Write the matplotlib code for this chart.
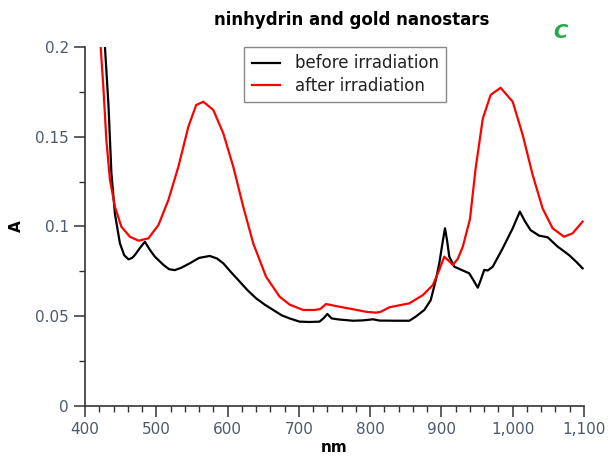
import matplotlib
matplotlib.use("Agg")
import matplotlib.pyplot as plt
from matplotlib.ticker import MultipleLocator, FuncFormatter

# spectra (wavelength nm, absorbance)
before_nm = [428, 433, 437, 442, 449, 455, 461, 466, 470, 477, 484, 491, 498, 510, 518,
             526, 535, 547, 560, 575, 585, 594, 605, 617, 628, 640, 652, 664, 676, 687,
             701, 715, 729, 735, 740, 746, 756, 776, 790, 804, 813, 835, 855, 864, 876,
             885, 892, 897, 902, 905, 908, 911, 918, 930, 939, 945, 951, 955, 960, 965,
             972, 986, 1000, 1010, 1017, 1025, 1037, 1049, 1063, 1079, 1090, 1098]
before_A = [0.200, 0.167, 0.130, 0.107, 0.0906, 0.084, 0.0817, 0.0825, 0.0841, 0.088,
            0.0915, 0.087, 0.0832, 0.0786, 0.0762, 0.0757, 0.077, 0.0795, 0.0825, 0.0836,
            0.0822, 0.0795, 0.0745, 0.0693, 0.0645, 0.060, 0.0565, 0.0535, 0.0505, 0.0488,
            0.047, 0.0468, 0.047, 0.049, 0.0513, 0.0488, 0.0482, 0.0475, 0.0477, 0.0483,
            0.0476, 0.0475, 0.0475, 0.0498, 0.0535, 0.059, 0.070, 0.0795, 0.092, 0.099,
            0.092, 0.0832, 0.0776, 0.0755, 0.0739, 0.070, 0.0659, 0.070, 0.0758, 0.0755,
            0.0776, 0.0879, 0.099, 0.1083, 0.103, 0.098, 0.0949, 0.094, 0.0888, 0.0841,
            0.080, 0.0767]

after_nm = [422, 426, 430, 435, 442, 451, 463, 475, 489, 503, 517, 531, 545, 556, 566,
            580, 594, 608, 622, 636, 654, 673, 687, 706, 722, 730, 738, 757, 776, 794,
            808, 815, 827, 855, 874, 888, 897, 904, 910, 916, 923, 930, 940, 948, 958,
            969, 983, 1000, 1014, 1028, 1042, 1056, 1072, 1084, 1098]
after_A = [0.200, 0.176, 0.148, 0.126, 0.111, 0.0999, 0.0943, 0.0921, 0.0934, 0.1008,
           0.1148, 0.1333, 0.1556, 0.1677, 0.1695, 0.1649, 0.1519, 0.1333, 0.111, 0.0906,
           0.072, 0.0609, 0.0565, 0.0535, 0.0535, 0.054, 0.0568, 0.0553, 0.0539, 0.0525,
           0.052, 0.0525, 0.055, 0.0572, 0.0618, 0.0674, 0.0758, 0.0832, 0.081, 0.0786,
           0.082, 0.0888, 0.104, 0.1324, 0.160, 0.1733, 0.1773, 0.1695, 0.151, 0.1287,
           0.110, 0.099, 0.0943, 0.0962, 0.1027]

tick_color = "#4d5a6b"

fig = plt.figure(figsize=(6.09, 4.66), dpi=100)
ax = fig.add_axes([85 / 609, 1 - 406 / 466, 499 / 609, 359 / 466])

ax.plot(before_nm, before_A, color="black", lw=1.6, label="before irradiation",
        solid_joinstyle="round")
ax.plot(after_nm, after_A, color="#ff0000", lw=1.6, label="after irradiation",
        solid_joinstyle="round")

ax.set_xlim(400, 1100)
ax.set_ylim(0, 0.2)
ax.xaxis.set_major_locator(MultipleLocator(100))
ax.xaxis.set_minor_locator(MultipleLocator(20))
ax.yaxis.set_major_locator(MultipleLocator(0.05))
ax.yaxis.set_minor_locator(MultipleLocator(0.025))
ax.xaxis.set_major_formatter(FuncFormatter(lambda v, p: f"{int(v):,}"))
ax.yaxis.set_major_formatter(FuncFormatter(lambda v, p: f"{v:g}"))

for s in ["top", "right"]:
    ax.spines[s].set_visible(False)
for s in ["left", "bottom"]:
    ax.spines[s].set_color("#333333")
    ax.spines[s].set_linewidth(1.2)

ax.tick_params(which="major", length=8, width=1.1, color="#333333",
               labelcolor=tick_color, labelsize=11)
ax.tick_params(which="minor", length=4.5, width=1.0, color="#333333")

ax.set_xlabel("nm", fontweight="bold", fontsize=11, labelpad=2)
ax.set_ylabel("A", fontweight="bold", fontsize=11, labelpad=8)

leg = ax.legend(loc="upper left", bbox_to_anchor=(159 / 499, 1.0), fontsize=12,
                fancybox=False, edgecolor="#888888", framealpha=1, borderaxespad=0,
                handlelength=1.7, handletextpad=0.9, borderpad=0.45, labelspacing=0.25)
for t in leg.get_texts():
    t.set_color("#222222")

fig.text(352 / 609, 1 - 20 / 466, "ninhydrin and gold nanostars",
         ha="center", va="center", fontsize=12, fontweight="bold")
fig.text(560 / 609, 1 - 33 / 466, "C", ha="center", va="center",
         fontsize=14, fontweight="bold", fontstyle="italic", color="#22aa44")

fig.savefig("out.png", dpi=100)
